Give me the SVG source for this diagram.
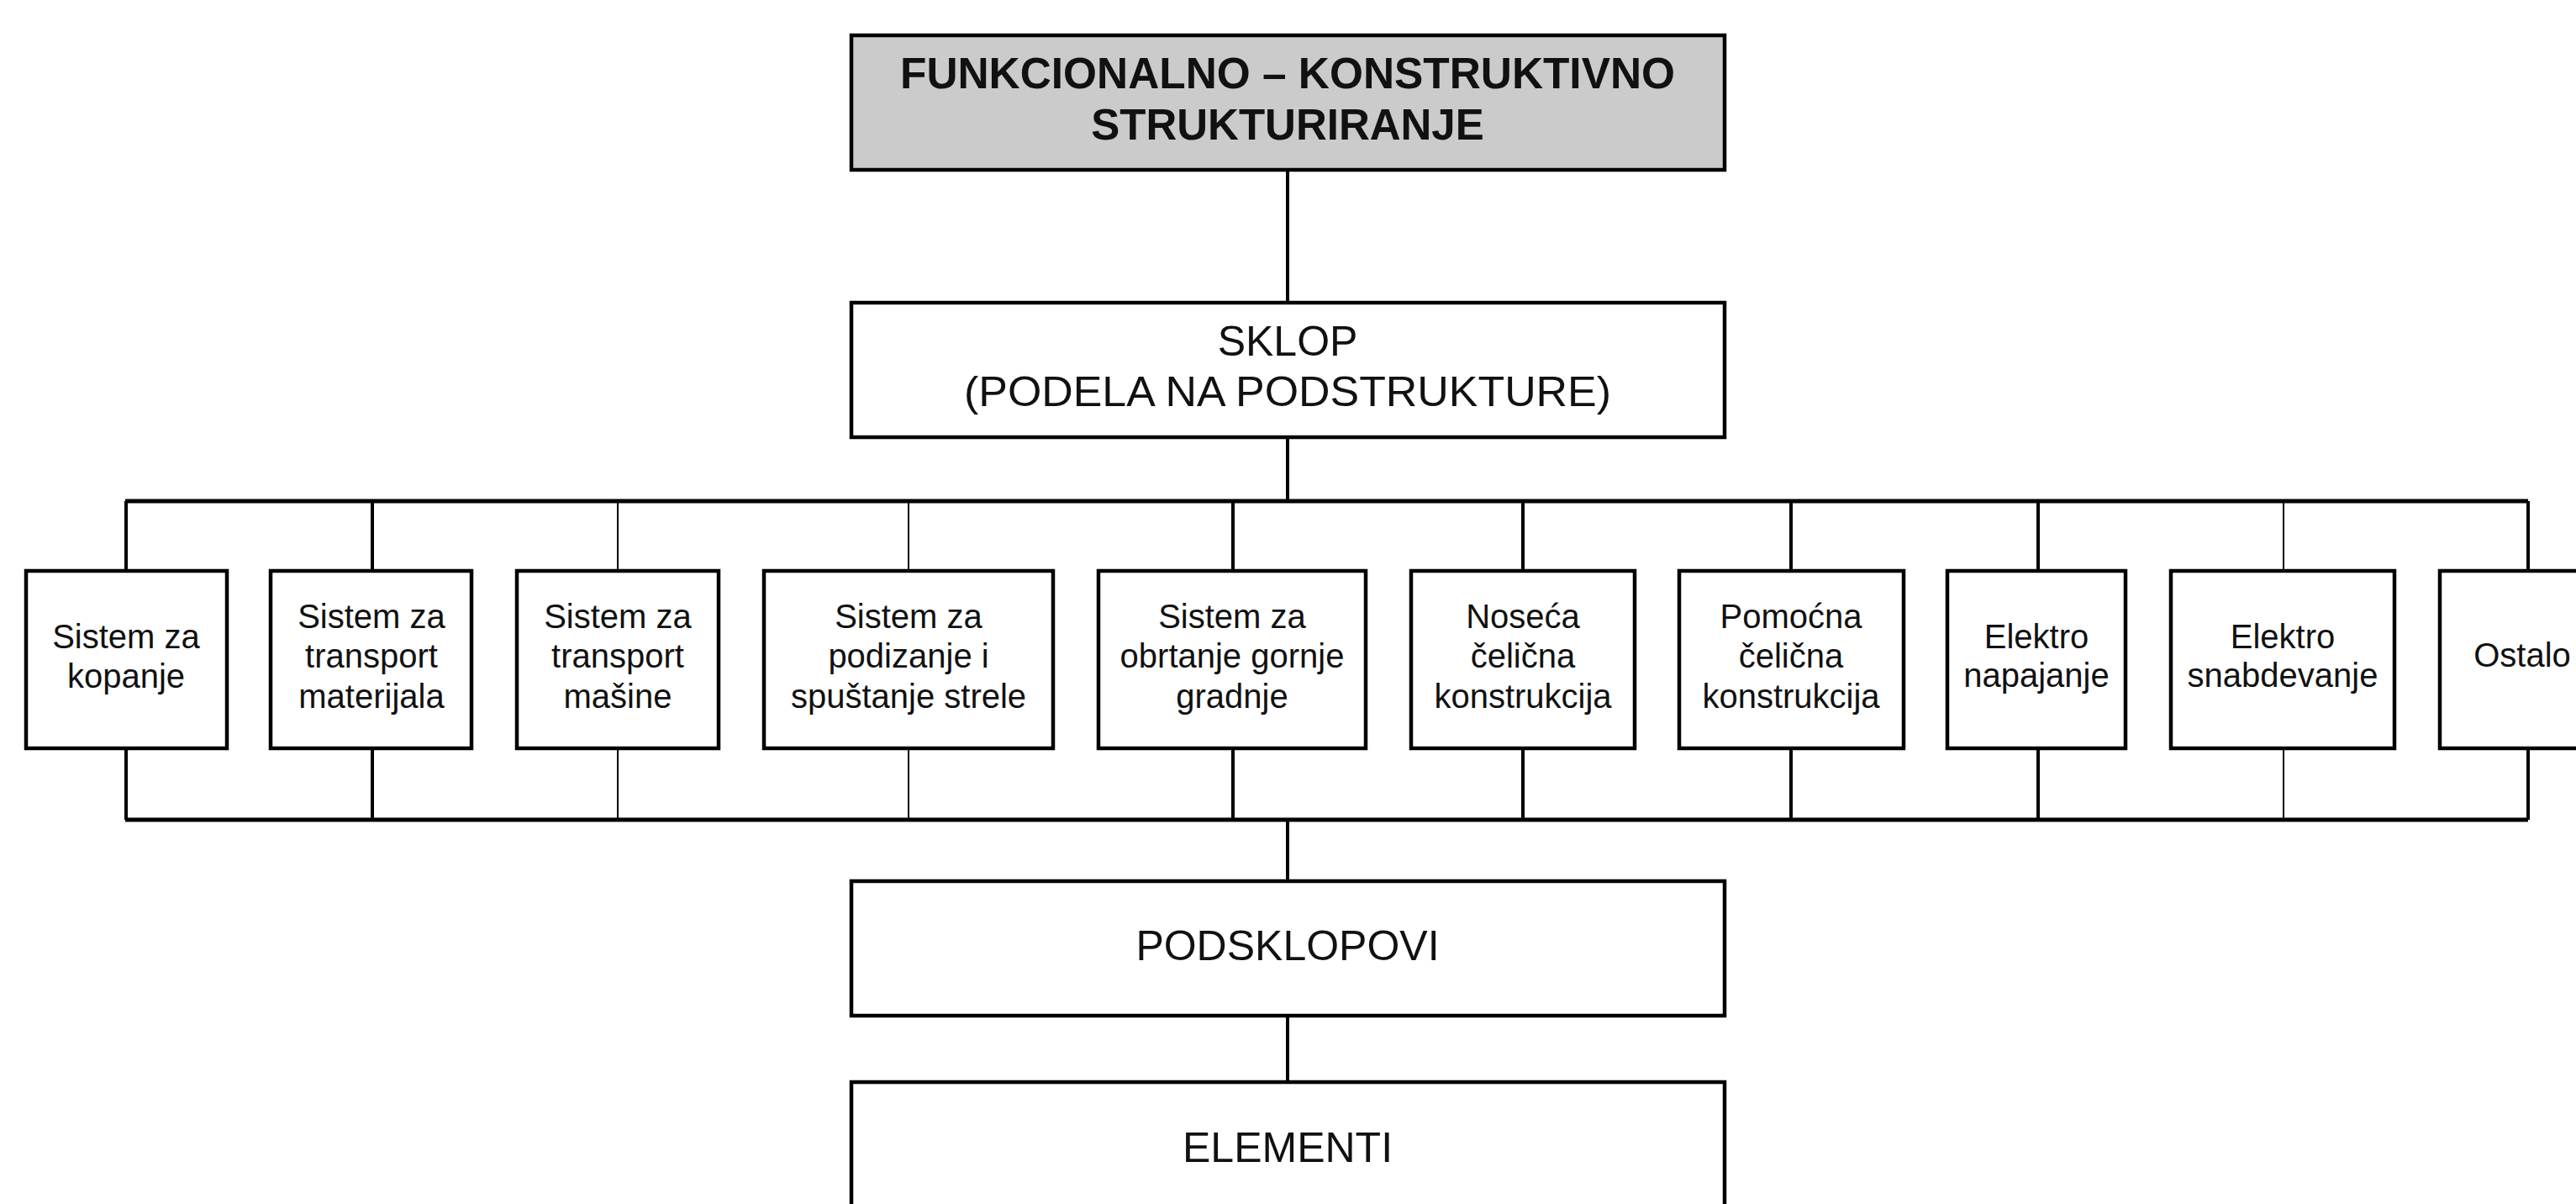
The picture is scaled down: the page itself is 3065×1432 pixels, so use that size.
<svg xmlns="http://www.w3.org/2000/svg" width="3065" height="1432" viewBox="0 0 3065 1432">
<style>
  .box { fill: #ffffff; stroke: #000000; stroke-width: 4.5; }
  .top { fill: #cbcbcb; stroke: #000000; stroke-width: 4.5; }
  .big { font-family: "Liberation Sans", Arial, sans-serif; font-size: 50px; fill: #111111; text-anchor: middle; }
  .bold { font-weight: bold; font-size: 51px; }
  .sm { font-family: "Liberation Sans", Arial, sans-serif; font-size: 40px; fill: #111111; text-anchor: middle; }
  .bus { stroke: #000000; stroke-width: 5; fill: none; }
  .thick { stroke: #000000; stroke-width: 4; fill: none; }
  .thin { stroke: #000000; stroke-width: 2; fill: none; }
</style>
<rect x="0" y="0" width="3065" height="1432" fill="#ffffff"/>

<g id="connectors">
  <line class="thick" x1="1532" y1="202" x2="1532" y2="360"/>
  <line class="thick" x1="1532" y1="520" x2="1532" y2="596"/>
  <line class="bus" x1="149" y1="596" x2="3008" y2="596"/>
  <line class="bus" x1="149" y1="975" x2="3008" y2="975"/>
  <line class="thick" x1="1532" y1="975" x2="1532" y2="1048"/>
  <line class="thick" x1="1532" y1="1208" x2="1532" y2="1287"/>
  <!-- top drops -->
  <line class="thick" x1="150" y1="596" x2="150" y2="679"/>
  <line class="thick" x1="443" y1="596" x2="443" y2="679"/>
  <line class="thin" x1="735" y1="596" x2="735" y2="679"/>
  <line class="thin" x1="1081" y1="596" x2="1081" y2="679"/>
  <line class="thick" x1="1467" y1="596" x2="1467" y2="679"/>
  <line class="thick" x1="1812" y1="596" x2="1812" y2="679"/>
  <line class="thick" x1="2131" y1="596" x2="2131" y2="679"/>
  <line class="thick" x1="2425" y1="596" x2="2425" y2="679"/>
  <line class="thin" x1="2717" y1="596" x2="2717" y2="679"/>
  <line class="thick" x1="3008" y1="596" x2="3008" y2="679"/>
  <!-- bottom drops -->
  <line class="thick" x1="150" y1="890" x2="150" y2="975"/>
  <line class="thick" x1="443" y1="890" x2="443" y2="975"/>
  <line class="thin" x1="735" y1="890" x2="735" y2="975"/>
  <line class="thin" x1="1081" y1="890" x2="1081" y2="975"/>
  <line class="thick" x1="1467" y1="890" x2="1467" y2="975"/>
  <line class="thick" x1="1812" y1="890" x2="1812" y2="975"/>
  <line class="thick" x1="2131" y1="890" x2="2131" y2="975"/>
  <line class="thick" x1="2425" y1="890" x2="2425" y2="975"/>
  <line class="thin" x1="2717" y1="890" x2="2717" y2="975"/>
  <line class="thick" x1="3008" y1="890" x2="3008" y2="975"/>
</g>

<g id="n-funkcionalno">
  <rect class="top" x="1013" y="42" width="1039" height="160"/>
  <text class="big bold" x="1532" y="105" textLength="922" lengthAdjust="spacingAndGlyphs">FUNKCIONALNO – KONSTRUKTIVNO</text>
  <text class="big bold" x="1532" y="166">STRUKTURIRANJE</text>
</g>

<g id="n-sklop">
  <rect class="box" x="1013" y="360" width="1039" height="160"/>
  <text class="big" x="1532" y="423">SKLOP</text>
  <text class="big" x="1532" y="483" textLength="770" lengthAdjust="spacingAndGlyphs">(PODELA NA PODSTRUKTURE)</text>
</g>

<g id="n-kopanje">
  <rect class="box" x="31" y="679" width="239" height="211"/>
  <text class="sm" x="150" y="771">Sistem za</text>
  <text class="sm" x="150" y="818">kopanje</text>
</g>

<g id="n-transport-materijala">
  <rect class="box" x="322" y="679" width="239" height="211"/>
  <text class="sm" x="442" y="747">Sistem za</text>
  <text class="sm" x="442" y="794">transport</text>
  <text class="sm" x="442" y="842">materijala</text>
</g>

<g id="n-transport-masine">
  <rect class="box" x="615" y="679" width="240" height="211"/>
  <text class="sm" x="735" y="747">Sistem za</text>
  <text class="sm" x="735" y="794">transport</text>
  <text class="sm" x="735" y="842">mašine</text>
</g>

<g id="n-podizanje">
  <rect class="box" x="909" y="679" width="344" height="211"/>
  <text class="sm" x="1081" y="747">Sistem za</text>
  <text class="sm" x="1081" y="794">podizanje i</text>
  <text class="sm" x="1081" y="842">spuštanje strele</text>
</g>

<g id="n-obrtanje">
  <rect class="box" x="1307" y="679" width="318" height="211"/>
  <text class="sm" x="1466" y="747">Sistem za</text>
  <text class="sm" x="1466" y="794">obrtanje gornje</text>
  <text class="sm" x="1466" y="842">gradnje</text>
</g>

<g id="n-noseca">
  <rect class="box" x="1679" y="679" width="266" height="211"/>
  <text class="sm" x="1812" y="747">Noseća</text>
  <text class="sm" x="1812" y="794">čelična</text>
  <text class="sm" x="1812" y="842">konstrukcija</text>
</g>

<g id="n-pomocna">
  <rect class="box" x="1998" y="679" width="267" height="211"/>
  <text class="sm" x="2131" y="747">Pomoćna</text>
  <text class="sm" x="2131" y="794">čelična</text>
  <text class="sm" x="2131" y="842">konstrukcija</text>
</g>

<g id="n-napajanje">
  <rect class="box" x="2317" y="679" width="212" height="211"/>
  <text class="sm" x="2423" y="771">Elektro</text>
  <text class="sm" x="2423" y="817">napajanje</text>
</g>

<g id="n-snabdevanje">
  <rect class="box" x="2583" y="679" width="266" height="211"/>
  <text class="sm" x="2716" y="771">Elektro</text>
  <text class="sm" x="2716" y="817">snabdevanje</text>
</g>

<g id="n-ostalo">
  <rect class="box" x="2903" y="679" width="210" height="211"/>
  <text class="sm" x="3001" y="793">Ostalo</text>
</g>

<g id="n-podsklopovi">
  <rect class="box" x="1013" y="1048" width="1039" height="160"/>
  <text class="big" x="1532" y="1142">PODSKLOPOVI</text>
</g>

<g id="n-elementi">
  <rect class="box" x="1013" y="1287" width="1039" height="160"/>
  <text class="big" x="1532" y="1382">ELEMENTI</text>
</g>
</svg>
